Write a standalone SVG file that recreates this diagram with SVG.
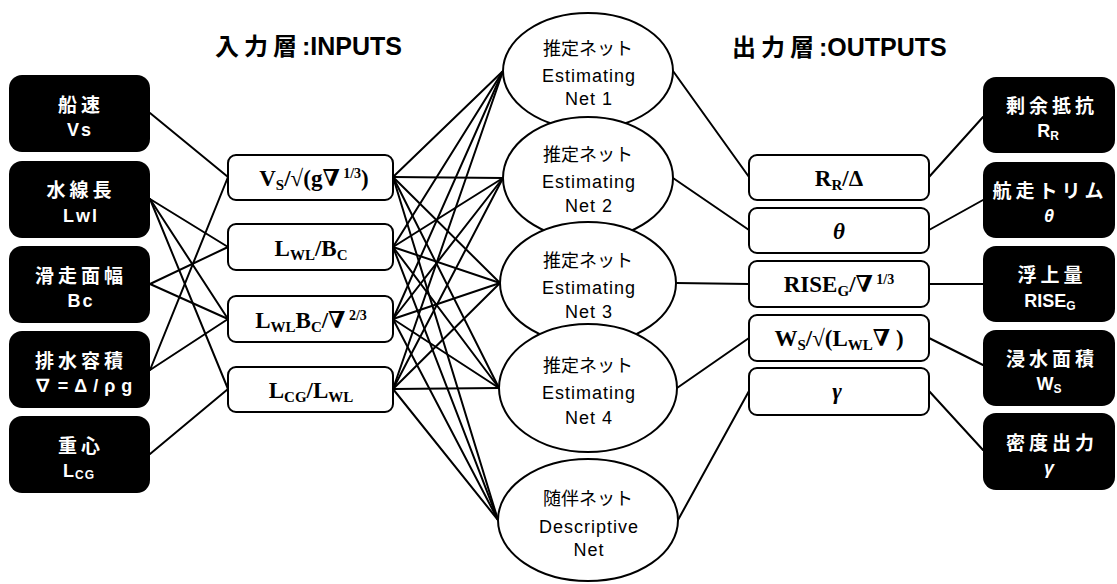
<svg xmlns="http://www.w3.org/2000/svg" width="1117" height="584" viewBox="0 0 1117 584">
  <style>
    .bg { fill: #ffffff; }
    .blk { fill: #000000; }
    .box { fill: #ffffff; stroke: #000000; stroke-width: 2; }
    .ell { fill: #ffffff; stroke: #000000; stroke-width: 2; }
    .wire line { stroke: #000000; stroke-width: 2; stroke-linecap: round; }
    .hd { font-family: "Liberation Sans", "Noto Sans CJK JP", sans-serif; font-weight: bold; font-size: 25px; fill: #000000; }
    .hd .cj { font-family: "Noto Sans CJK JP", sans-serif; font-size: 24px; letter-spacing: 5px; }
    .wt { font-family: "Liberation Sans", "Noto Sans CJK JP", sans-serif; font-weight: bold; font-size: 18px; fill: #ffffff; text-anchor: middle; }
    .wt.cj { font-family: "Noto Sans CJK JP", sans-serif; font-size: 19px; letter-spacing: 4px; }
    .wt .s { font-size: 12px; }
    .ej { font-family: "Noto Sans CJK JP", sans-serif; font-size: 18px; fill: #000000; text-anchor: middle; }
    .el { font-family: "Liberation Sans", sans-serif; font-size: 18px; fill: #000000; text-anchor: middle; letter-spacing: 1px; }
    .fm { font-family: "Liberation Serif", "DejaVu Serif", serif; font-weight: bold; font-size: 23px; fill: #000000; text-anchor: middle; }
    .fm .s { font-size: 15px; }
    .fm .p { font-size: 14px; }
    .it { font-style: italic; }
  </style>

  <rect class="bg" x="0" y="0" width="1117" height="584"/>

  <!-- layer headings -->
  <text id="head-in" class="hd" x="215" y="55"><tspan class="cj">入力層</tspan>:INPUTS</text>
  <text id="head-out" class="hd" x="732" y="56"><tspan class="cj">出力層</tspan>:OUTPUTS</text>

  <!-- connectors -->
  <g id="connectors" class="wire">
    <!-- raw quantities to dimensionless inputs -->
    <line x1="150" y1="113" x2="228" y2="177"/>
    <line x1="150" y1="199" x2="228" y2="247"/>
    <line x1="150" y1="199" x2="228" y2="319"/>
    <line x1="150" y1="199" x2="228" y2="389"/>
    <line x1="150" y1="284" x2="228" y2="247"/>
    <line x1="150" y1="284" x2="228" y2="319"/>
    <line x1="150" y1="370" x2="228" y2="177"/>
    <line x1="150" y1="370" x2="228" y2="319"/>
    <line x1="150" y1="454" x2="228" y2="389"/>

    <!-- every input feeds every net -->
    <line x1="393" y1="177" x2="503" y2="71"/>
    <line x1="393" y1="177" x2="503" y2="178"/>
    <line x1="393" y1="177" x2="500" y2="283"/>
    <line x1="393" y1="177" x2="499" y2="388"/>
    <line x1="393" y1="177" x2="498" y2="520"/>
    <line x1="393" y1="247" x2="503" y2="71"/>
    <line x1="393" y1="247" x2="503" y2="178"/>
    <line x1="393" y1="247" x2="500" y2="283"/>
    <line x1="393" y1="247" x2="499" y2="388"/>
    <line x1="393" y1="247" x2="498" y2="520"/>
    <line x1="393" y1="319" x2="503" y2="71"/>
    <line x1="393" y1="319" x2="503" y2="178"/>
    <line x1="393" y1="319" x2="500" y2="283"/>
    <line x1="393" y1="319" x2="499" y2="388"/>
    <line x1="393" y1="319" x2="498" y2="520"/>
    <line x1="393" y1="389" x2="503" y2="71"/>
    <line x1="393" y1="389" x2="503" y2="178"/>
    <line x1="393" y1="389" x2="500" y2="283"/>
    <line x1="393" y1="389" x2="499" y2="388"/>
    <line x1="393" y1="389" x2="498" y2="520"/>

    <!-- nets to dimensionless outputs -->
    <line x1="673" y1="71" x2="749" y2="177"/>
    <line x1="673" y1="178" x2="749" y2="230"/>
    <line x1="676" y1="283" x2="749" y2="284"/>
    <line x1="677" y1="388" x2="749" y2="338"/>
    <line x1="678" y1="520" x2="749" y2="391"/>

    <!-- dimensionless outputs to physical quantities -->
    <line x1="929" y1="177" x2="983" y2="117"/>
    <line x1="929" y1="230" x2="983" y2="200"/>
    <line x1="929" y1="284" x2="983" y2="284"/>
    <line x1="929" y1="338" x2="983" y2="365"/>
    <line x1="929" y1="391" x2="983" y2="450"/>
  </g>

  <!-- raw input quantities -->
  <g id="in-vs">
    <rect class="blk" x="9" y="75" width="141" height="77" rx="13"/>
    <text class="wt cj" x="81" y="112">船速</text>
    <text class="wt" x="80" y="136" letter-spacing="2">Vs</text>
  </g>
  <g id="in-lwl">
    <rect class="blk" x="9" y="161" width="141" height="77" rx="13"/>
    <text class="wt cj" x="81" y="197">水線長</text>
    <text class="wt" x="81" y="222" letter-spacing="2">Lwl</text>
  </g>
  <g id="in-bc">
    <rect class="blk" x="9" y="246" width="141" height="77" rx="13"/>
    <text class="wt cj" x="81" y="283">滑走面幅</text>
    <text class="wt" x="81" y="307" letter-spacing="2">Bc</text>
  </g>
  <g id="in-disp">
    <rect class="blk" x="9" y="331" width="141" height="77" rx="13"/>
    <text class="wt cj" x="81" y="368">排水容積</text>
    <text class="wt" x="86" y="392" letter-spacing="6">∇=Δ/ρg</text>
  </g>
  <g id="in-lcg">
    <rect class="blk" x="9" y="416" width="141" height="77" rx="13"/>
    <text class="wt cj" x="81" y="453">重心</text>
    <text class="wt" x="79" y="477" letter-spacing="1">L<tspan class="s" dy="2">CG</tspan></text>
  </g>

  <!-- dimensionless inputs -->
  <g id="x-froude">
    <rect class="box" x="228" y="155" width="165" height="45" rx="8"/>
    <text class="fm" x="314" y="186">V<tspan class="s" dy="4">S</tspan><tspan dy="-4">/√(g∇</tspan><tspan class="p" dy="-8"> 1/3</tspan><tspan dy="8">)</tspan></text>
  </g>
  <g id="x-lb">
    <rect class="box" x="228" y="224" width="165" height="46" rx="8"/>
    <text class="fm" x="311" y="256">L<tspan class="s" dy="4">WL</tspan><tspan dy="-4">/B</tspan><tspan class="s" dy="4">C</tspan></text>
  </g>
  <g id="x-lbv">
    <rect class="box" x="228" y="296" width="165" height="46" rx="8"/>
    <text class="fm" x="311" y="328">L<tspan class="s" dy="4">WL</tspan><tspan dy="-4">B</tspan><tspan class="s" dy="4">C</tspan><tspan dy="-4">/∇</tspan><tspan class="p" dy="-8"> 2/3</tspan></text>
  </g>
  <g id="x-lcg">
    <rect class="box" x="228" y="367" width="165" height="45" rx="8"/>
    <text class="fm" x="311" y="398">L<tspan class="s" dy="4">CG</tspan><tspan dy="-4">/L</tspan><tspan class="s" dy="4">WL</tspan></text>
  </g>

  <!-- networks -->
  <g id="net-1">
    <ellipse class="ell" cx="588" cy="71" rx="85" ry="58"/>
    <text class="ej" x="588" y="55">推定ネット</text>
    <text class="el" x="589" y="82">Estimating</text>
    <text class="el" x="589" y="105">Net 1</text>
  </g>
  <g id="net-2">
    <ellipse class="ell" cx="588" cy="178" rx="85" ry="61"/>
    <text class="ej" x="588" y="161">推定ネット</text>
    <text class="el" x="589" y="188">Estimating</text>
    <text class="el" x="589" y="212">Net 2</text>
  </g>
  <g id="net-3">
    <ellipse class="ell" cx="588" cy="283" rx="88" ry="61"/>
    <text class="ej" x="588" y="267">推定ネット</text>
    <text class="el" x="589" y="294">Estimating</text>
    <text class="el" x="589" y="318">Net 3</text>
  </g>
  <g id="net-4">
    <ellipse class="ell" cx="588" cy="388" rx="89" ry="64"/>
    <text class="ej" x="588" y="372">推定ネット</text>
    <text class="el" x="589" y="399">Estimating</text>
    <text class="el" x="589" y="424">Net 4</text>
  </g>
  <g id="net-desc">
    <ellipse class="ell" cx="588" cy="520" rx="90" ry="61"/>
    <text class="ej" x="588" y="505">随伴ネット</text>
    <text class="el" x="589" y="533">Descriptive</text>
    <text class="el" x="589" y="556">Net</text>
  </g>

  <!-- dimensionless outputs -->
  <g id="y-rr">
    <rect class="box" x="749" y="155" width="180" height="45" rx="8"/>
    <text class="fm" x="839" y="186">R<tspan class="s" dy="4">R</tspan><tspan dy="-4">/Δ</tspan></text>
  </g>
  <g id="y-theta">
    <rect class="box" x="749" y="208" width="180" height="45" rx="8"/>
    <text class="fm it" x="839" y="239">θ</text>
  </g>
  <g id="y-rise">
    <rect class="box" x="749" y="261" width="180" height="46" rx="8"/>
    <text class="fm" x="839" y="292">RISE<tspan class="s" dy="4">G</tspan><tspan dy="-4">/∇</tspan><tspan class="p" dy="-8"> 1/3</tspan></text>
  </g>
  <g id="y-ws">
    <rect class="box" x="749" y="315" width="180" height="46" rx="8"/>
    <text class="fm" x="839" y="346">W<tspan class="s" dy="4">S</tspan><tspan dy="-4">/√(L</tspan><tspan class="s" dy="4">WL</tspan><tspan dy="-4">∇ )</tspan></text>
  </g>
  <g id="y-gamma">
    <rect class="box" x="749" y="368" width="180" height="47" rx="8"/>
    <text class="fm it" x="837" y="399">γ</text>
  </g>

  <!-- physical output quantities -->
  <g id="out-rr">
    <rect class="blk" x="983" y="77" width="132" height="76" rx="13"/>
    <text class="wt cj" x="1052" y="113">剰余抵抗</text>
    <text class="wt" x="1048" y="137">R<tspan class="s" dy="3">R</tspan></text>
  </g>
  <g id="out-trim">
    <rect class="blk" x="983" y="162" width="132" height="76" rx="13"/>
    <text class="wt cj" x="1050" y="198" letter-spacing="0">航走トリム</text>
    <text class="wt it" x="1049" y="222">θ</text>
  </g>
  <g id="out-rise">
    <rect class="blk" x="983" y="246" width="132" height="76" rx="13"/>
    <text class="wt cj" x="1052" y="282">浮上量</text>
    <text class="wt" x="1050" y="307">RISE<tspan class="s" dy="3">G</tspan></text>
  </g>
  <g id="out-ws">
    <rect class="blk" x="983" y="330" width="132" height="76" rx="13"/>
    <text class="wt cj" x="1052" y="366">浸水面積</text>
    <text class="wt" x="1049" y="390">W<tspan class="s" dy="3">S</tspan></text>
  </g>
  <g id="out-gamma">
    <rect class="blk" x="983" y="413" width="132" height="77" rx="13"/>
    <text class="wt cj" x="1052" y="450">密度出力</text>
    <text class="wt it" x="1049" y="474">γ</text>
  </g>
</svg>
